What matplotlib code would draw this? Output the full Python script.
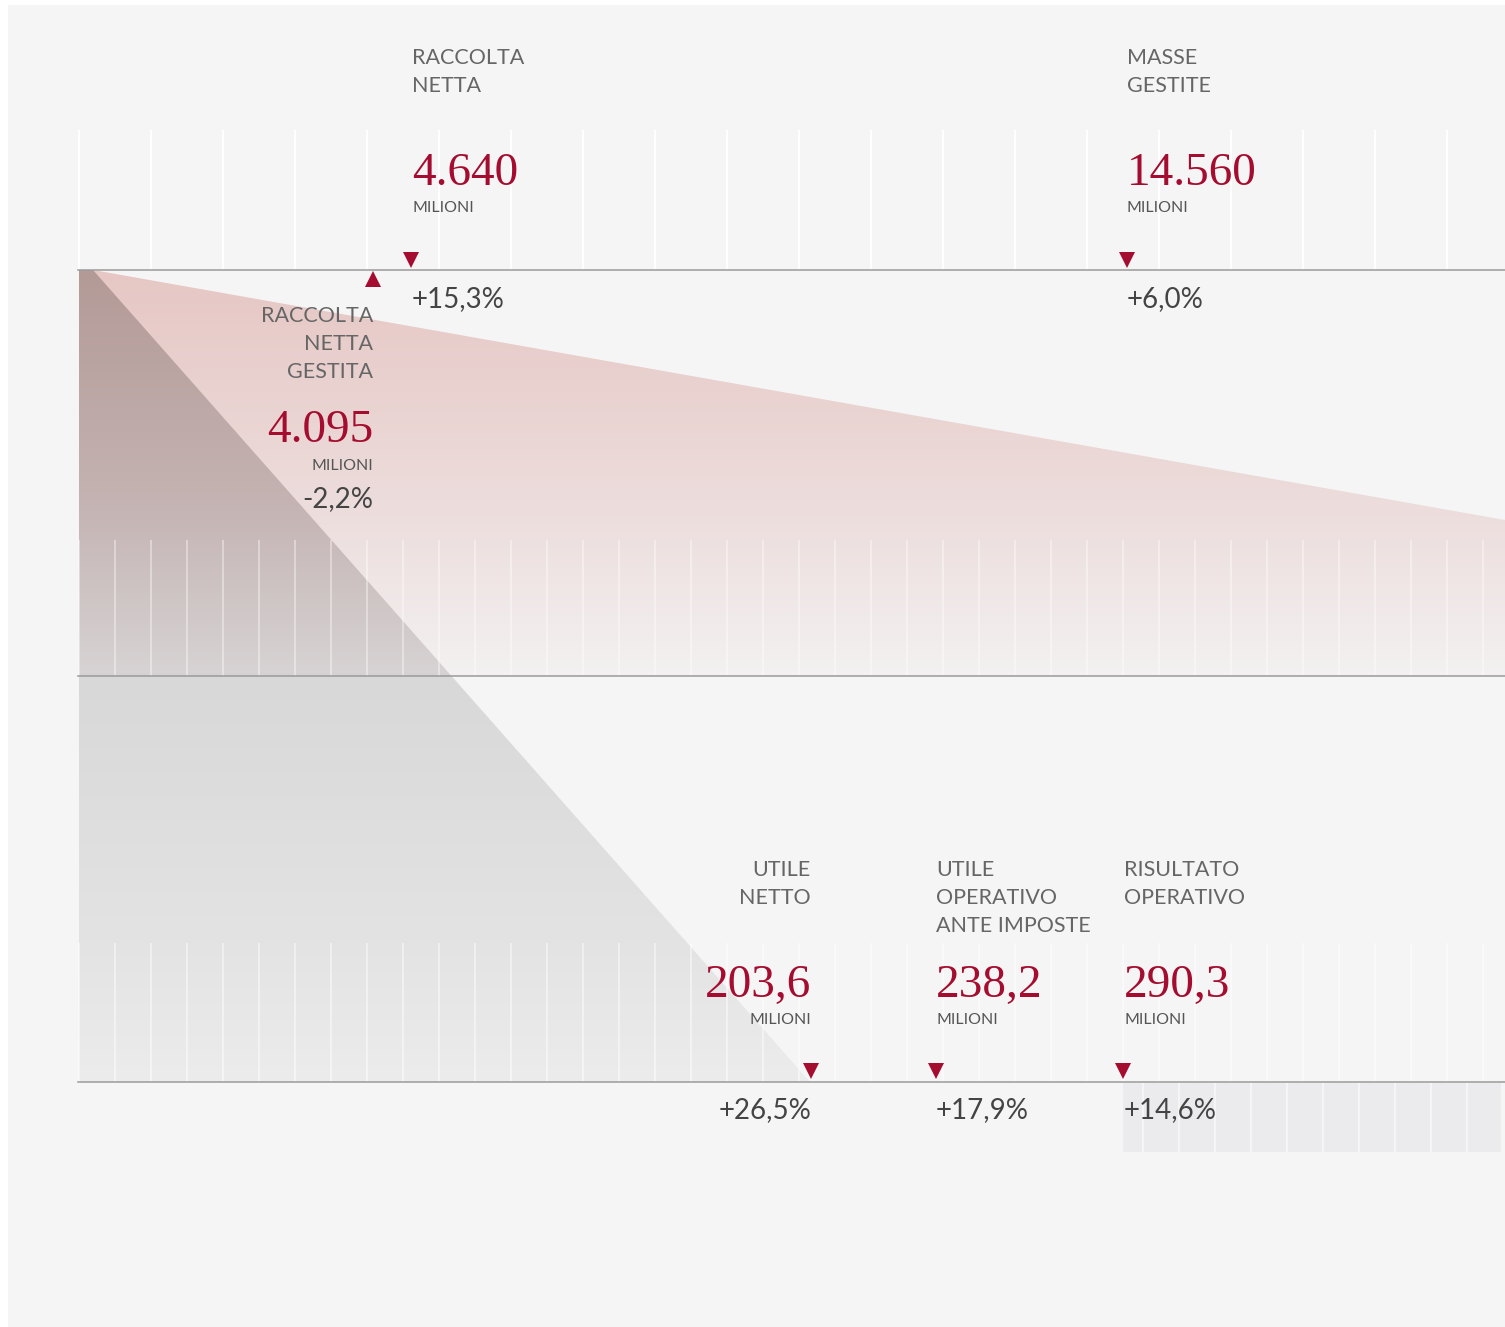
import numpy as np
import matplotlib
matplotlib.use("Agg")
import matplotlib.pyplot as plt
from matplotlib.patches import Polygon, Rectangle
from matplotlib.colors import to_rgb

# --- data ---
kpi_labels = [
    ["RACCOLTA", "NETTA"],
    ["MASSE", "GESTITE"],
    ["RACCOLTA", "NETTA", "GESTITA"],
    ["UTILE", "NETTO"],
    ["UTILE", "OPERATIVO", "ANTE IMPOSTE"],
    ["RISULTATO", "OPERATIVO"],
]
kpi_values = ["4.640", "14.560", "4.095", "203,6", "238,2", "290,3"]
kpi_changes = ["+15,3%", "+6,0%", "-2,2%", "+26,5%", "+17,9%", "+14,6%"]
unit_label = "MILIONI"

# --- layout (pixel coords, y down) ---
# x, align, first label baseline, value baseline, unit baseline, change baseline, marker x, marker y, marker
layout = [
    (412, "left", 64, 185, 212, 307, 411, 260, "v"),
    (1127, "left", 64, 185, 212, 307, 1127, 260, "v"),
    (373, "right", 322, 442, 470, 507, 373, 279, "^"),
    (811, "right", 876, 997, 1024, 1118, 811, 1071, "v"),
    (936, "left", 876, 997, 1024, 1118, 936, 1071, "v"),
    (1124, "left", 876, 997, 1024, 1118, 1123, 1071, "v"),
]

W, H = 1505, 1327
RED = "#a50d30"
LABEL_C = "#666666"
UNIT_C = "#555555"
PCT_C = "#444444"

fig = plt.figure(figsize=(W / 100, H / 100), dpi=100, facecolor="white")
ax = fig.add_axes([0, 0, 1, 1])
ax.set_facecolor("white")
ax.axis("off")

# background panel
ax.add_patch(Rectangle((8, 5), W - 8, H - 5, facecolor="#f5f5f5", edgecolor="none", zorder=0))


def vgrad(stops_y, stops_c, x0, x1, clip, z):
    ys = np.linspace(stops_y[0], stops_y[-1], 400)
    cols = np.array([to_rgb(c) for c in stops_c])
    rgb = np.stack([np.interp(ys, stops_y, cols[:, i]) for i in range(3)], axis=-1)
    img = np.repeat(rgb[:, None, :], 2, axis=1)
    im = ax.imshow(img, extent=(x0, x1, stops_y[-1], stops_y[0]), aspect="auto",
                   interpolation="bilinear", zorder=z)
    ax.add_patch(clip)
    clip.set_visible(False)
    im.set_clip_path(clip)


# pink wedge
pink = Polygon([(79, 270), (93, 270), (1505, 520), (1505, 676), (79, 676)], closed=True,
               transform=ax.transData)
vgrad([270, 500, 676], ["#e6c7c4", "#ecdcdb", "#f3f1f1"], 79, 1505, pink, 1)

# dark wedge
dark = Polygon([(79, 270), (93, 270), (810, 1082), (79, 1082)], closed=True,
               transform=ax.transData)
vgrad([270, 500, 675, 677, 943, 1082],
      ["#b39a97", "#c4b3b2", "#d7d3d4", "#d9d8d9", "#e3e3e4", "#ececec"],
      79, 810, dark, 2)

# vertical grid strokes
for x in np.arange(79, 1505, 72):
    ax.plot([x, x], [130, 270], color="white", lw=1.4, zorder=3, solid_capstyle="butt")
for x in np.arange(79, 1505, 36):
    ax.plot([x, x], [540, 676], color="white", lw=1.1, alpha=0.5, zorder=3, solid_capstyle="butt")
    ax.plot([x, x], [943, 1082], color="white", lw=1.1, alpha=0.6, zorder=3, solid_capstyle="butt")

# grey blocks under the bottom rule
edges = [1123] + list(np.arange(1144, 1504, 36)) + [1503]
for a, b in zip(edges[:-1], edges[1:]):
    ax.add_patch(Rectangle((a, 1083), b - a - 2, 69, facecolor="#ebebed", edgecolor="none", zorder=1))

# horizontal rules
for y in [270, 676, 1082]:
    ax.plot([78, 1505], [y, y], color="#9a9a9a", lw=1.1, zorder=4)

# texts
for lab, val, chg, lay in zip(kpi_labels, kpi_values, kpi_changes, layout):
    x, ha, yl, yv, yu, yc, mx, my, mk = lay
    for i, line in enumerate(lab):
        ax.text(x, yl + 28 * i, line, ha=ha, va="baseline", fontsize=15.5,
                family="Lato", color=LABEL_C, zorder=5)
    ax.text(x, yv, val, ha=ha, va="baseline", fontsize=34, family="Liberation Serif",
            color=RED, zorder=5)
    ax.text(x, yu, unit_label, ha=ha, va="baseline", fontsize=11.5, family="Lato",
            color=UNIT_C, zorder=5)
    ax.text(x, yc, chg, ha=ha, va="baseline", fontsize=20, family="Lato",
            fontweight="normal", color=PCT_C, zorder=5)
    ax.plot([mx], [my], marker=mk, markersize=11.5, color=RED, markeredgewidth=0, zorder=6)

ax.set_xlim(0, W)
ax.set_ylim(H, 0)

fig.savefig("out.png", dpi=100, facecolor="white")
